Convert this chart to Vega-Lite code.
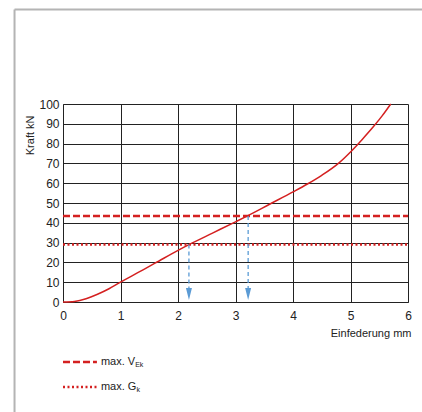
{
  "$schema": "https://vega.github.io/schema/vega-lite/v6.json",
  "width": 345,
  "height": 198,
  "autosize": "none",
  "padding": {"left": 63, "top": 104, "right": 14, "bottom": 110},
  "background": "white",
  "config": {"view": {"stroke": null}, "font": "Liberation Sans"},
  "datasets": {
    "curve": [
      {"x": 0, "y": 0}, {"x": 0.2, "y": 0.3}, {"x": 0.4, "y": 1.6}, {"x": 0.6, "y": 3.9},
      {"x": 0.8, "y": 6.7}, {"x": 1, "y": 10}, {"x": 1.3, "y": 14.8}, {"x": 1.6, "y": 19.6},
      {"x": 2, "y": 26.1}, {"x": 2.2, "y": 29.1}, {"x": 2.6, "y": 34.8}, {"x": 3, "y": 40.5},
      {"x": 3.2, "y": 43.4}, {"x": 3.6, "y": 49.5}, {"x": 4, "y": 55.6}, {"x": 4.25, "y": 59.6},
      {"x": 4.5, "y": 64}, {"x": 4.8, "y": 70.3}, {"x": 5, "y": 75.8}, {"x": 5.2, "y": 82},
      {"x": 5.4, "y": 88.6}, {"x": 5.55, "y": 94}, {"x": 5.7, "y": 100}
    ],
    "limits": [
      {"name": "VEk", "y": 43.4, "x": 0, "xe": 6},
      {"name": "Gk", "y": 29.1, "x": 0, "xe": 6}
    ],
    "arrows": [
      {"x": 2.19, "y": 29.1, "ye": 7},
      {"x": 3.22, "y": 43.4, "ye": 7}
    ],
    "heads": [
      {"x": 2.19, "y": 4.1},
      {"x": 3.22, "y": 4.1}
    ],
    "legendLines": [
      {"name": "VEk", "x": 0, "xe": 0.59, "y": -30.3},
      {"name": "Gk", "x": 0, "xe": 0.59, "y": -42.9}
    ],
    "legendText": [
      {"label": "max. V", "x": 0.66, "y": -30.3},
      {"label": "max. G", "x": 0.66, "y": -42.9}
    ],
    "legendSub": [
      {"label": "Ek", "x": 1.255, "y": -31.8},
      {"label": "k", "x": 1.277, "y": -44.4}
    ],
    "frameV": [{"x": -0.843, "y": -60, "ye": 147.7}],
    "frameH": [{"y": 147.7, "x": -0.843, "xe": 6.5}]
  },
  "encoding": {
    "x": {
      "field": "x", "type": "quantitative",
      "scale": {"domain": [0, 6], "nice": false, "zero": false},
      "axis": {
        "values": [0, 1, 2, 3, 4, 5, 6], "format": "d", "grid": true, "gridColor": "#222", "gridOpacity": 1, "gridWidth": 1,
        "domainColor": "#222", "domainWidth": 1, "tickSize": 0, "labelPadding": 8, "labelFontSize": 12,
        "labelColor": "#222", "labelFlush": false, "labelOverlap": false, "labelFont": "Liberation Sans",
        "title": "Einfederung mm", "titleFontSize": 11, "titleFontWeight": "normal", "titleColor": "#222",
        "titleFont": "Liberation Sans", "titleAnchor": "end", "titleAlign": "right", "titleX": 348,
        "titleY": 31, "titleBaseline": "middle"
      }
    },
    "y": {
      "field": "y", "type": "quantitative",
      "scale": {"domain": [0, 100], "nice": false, "zero": false},
      "axis": {
        "values": [0, 10, 20, 30, 40, 50, 60, 70, 80, 90, 100], "format": "d", "grid": true, "gridColor": "#222",
        "gridOpacity": 1, "gridWidth": 1, "domainColor": "#222", "domainWidth": 1, "tickSize": 0,
        "labelPadding": 4, "labelFontSize": 12, "labelColor": "#222", "labelOverlap": false, "labelFont": "Liberation Sans",
        "title": "Kraft kN", "titleFontSize": 11, "titleFontWeight": "normal", "titleColor": "#222",
        "titleFont": "Liberation Sans", "titleAngle": -90, "titleAlign": "right", "titleBaseline": "middle",
        "titleX": -33, "titleY": 11
      }
    }
  },
  "layer": [
    {
      "data": {"name": "curve"},
      "mark": {"type": "line", "color": "#d42020", "strokeWidth": 1.5, "interpolate": "monotone", "clip": false}
    },
    {
      "data": {"name": "limits"},
      "transform": [{"filter": "datum.name === 'VEk'"}],
      "mark": {"type": "rule", "color": "#d42020", "strokeWidth": 2.5, "strokeDash": [7, 3]},
      "encoding": {"x2": {"field": "xe"}}
    },
    {
      "data": {"name": "limits"},
      "transform": [{"filter": "datum.name === 'Gk'"}],
      "mark": {"type": "rule", "color": "#d42020", "strokeWidth": 2.5, "strokeDash": [2, 2.5]},
      "encoding": {"x2": {"field": "xe"}}
    },
    {
      "data": {"name": "arrows"},
      "mark": {"type": "rule", "color": "#5b9bd5", "strokeWidth": 1.3, "strokeDash": [4, 3]},
      "encoding": {"y2": {"field": "ye"}}
    },
    {
      "data": {"name": "heads"},
      "mark": {"type": "point", "shape": "M-0.5,-1L0.5,-1L0,1Z", "size": 144, "filled": true, "color": "#5b9bd5", "opacity": 1}
    },
    {
      "data": {"name": "legendLines"},
      "transform": [{"filter": "datum.name === 'VEk'"}],
      "mark": {"type": "rule", "color": "#d42020", "strokeWidth": 2.5, "strokeDash": [7, 3]},
      "encoding": {"x2": {"field": "xe"}}
    },
    {
      "data": {"name": "legendLines"},
      "transform": [{"filter": "datum.name === 'Gk'"}],
      "mark": {"type": "rule", "color": "#d42020", "strokeWidth": 2.5, "strokeDash": [2, 2.5]},
      "encoding": {"x2": {"field": "xe"}}
    },
    {
      "data": {"name": "legendText"},
      "mark": {"type": "text", "align": "left", "baseline": "middle", "fontSize": 11, "color": "#222", "font": "Liberation Sans"},
      "encoding": {"text": {"field": "label"}}
    },
    {
      "data": {"name": "legendSub"},
      "mark": {"type": "text", "align": "left", "baseline": "middle", "fontSize": 7, "color": "#222", "font": "Liberation Sans"},
      "encoding": {"text": {"field": "label"}}
    },
    {
      "data": {"name": "frameV"},
      "mark": {"type": "rule", "color": "#b4b4b4", "strokeWidth": 2},
      "encoding": {"y2": {"field": "ye"}}
    },
    {
      "data": {"name": "frameH"},
      "mark": {"type": "rule", "color": "#b4b4b4", "strokeWidth": 2},
      "encoding": {"x2": {"field": "xe"}}
    }
  ]
}
